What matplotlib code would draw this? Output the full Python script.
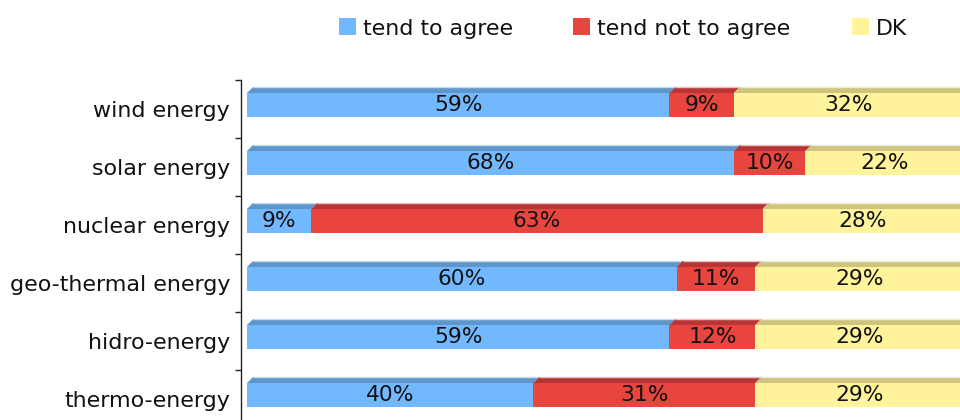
import matplotlib
matplotlib.use("Agg")
import matplotlib.pyplot as plt
from matplotlib.patches import Polygon, Rectangle
import numpy as np

categories = ["wind energy", "solar energy", "nuclear energy",
              "geo-thermal energy", "hidro-energy", "thermo-energy"]
series_names = ["tend to agree", "tend not to agree", "DK"]
agree = [59, 68, 9, 60, 59, 40]
not_agree = [9, 10, 63, 11, 12, 31]
dk = [32, 22, 28, 29, 29, 29]

face_colors = ["#72B8FF", "#E8453F", "#FFF39C"]
top_colors = ["#5E96CB", "#B83535", "#CEC47E"]
rim_colors = ["#C9DBEE", "#E8C2C2", "#EEEBD3"]

W, H = 960, 420
fig = plt.figure(figsize=(W / 100, H / 100), dpi=100)
plt.rcParams['font.family'] = ['DejaVu Sans']

# axes in pixel terms
ax_left, ax_right = 241, 960
ax_top, ax_bottom = 80, 428
ax = fig.add_axes([ax_left / W, 1 - ax_bottom / H,
                   (ax_right - ax_left) / W, (ax_bottom - ax_top) / H])

px_per_unit_x = 7.16
slot_px = 58.0
x0 = -6 / px_per_unit_x
ax.set_xlim(x0, x0 + (ax_right - ax_left) / px_per_unit_x)
ax.set_ylim(len(categories) - 0.5, -0.5)

face_off = -4 / slot_px
face_h = 24 / slot_px
bev_dy = 6 / slot_px
bev_dx = 6 / px_per_unit_x

series = [agree, not_agree, dk]
ypos = np.arange(len(categories))
for i, y in enumerate(ypos):
    left = 0
    yc = y + face_off
    top = yc - face_h / 2
    for s, vals in enumerate(series):
        v = vals[i]
        right = left + v
        # top bevel
        poly = Polygon([(left, top), (left + bev_dx, top - bev_dy),
                        (right + bev_dx, top - bev_dy), (right, top)],
                       closed=True, facecolor=top_colors[s], edgecolor='none',
                       zorder=2 + s * 0.1)
        ax.add_patch(poly)
        ax.plot([left + bev_dx, right + bev_dx], [top - bev_dy, top - bev_dy],
                color=rim_colors[s], lw=1.0, zorder=2 + s * 0.1 + 0.05,
                solid_capstyle='butt')
        ax.barh(yc, v, left=left, height=face_h, color=face_colors[s],
                edgecolor='none', zorder=3)
        ax.text(left + v / 2, yc, f"{v}%", ha='center', va='center',
                fontsize=15.7, color='#111111', zorder=4)
        left = right

# axes styling
for sp in ["top", "right", "bottom"]:
    ax.spines[sp].set_visible(False)
ax.spines["left"].set_color("#222222")
ax.spines["left"].set_linewidth(1.0)
ax.set_xticks([])
ax.set_yticks(np.arange(-0.5, len(categories)), labels=[])
ax.tick_params(axis='y', which='major', length=4.3, width=1.0, color='#222222')
ax.set_yticks(ypos, labels=categories, minor=True)
ax.tick_params(axis='y', which='minor', length=0, pad=7.9,
               labelsize=15.9, labelcolor='#111111')

# legend
leg_items = [(339, 363), (573, 597), (852, 876)]
for (sq_x, tx_x), name, col in zip(leg_items, series_names, face_colors):
    fig.patches.append(Rectangle((sq_x / W, 1 - 35 / H), 17 / W, 17 / H,
                                 transform=fig.transFigure, facecolor=col,
                                 edgecolor='none'))
    fig.text(tx_x / W, 1 - 35 / H, name, ha='left', va='baseline',
             fontsize=15.9, color='#111111')

fig.savefig("out.png", dpi=100)
